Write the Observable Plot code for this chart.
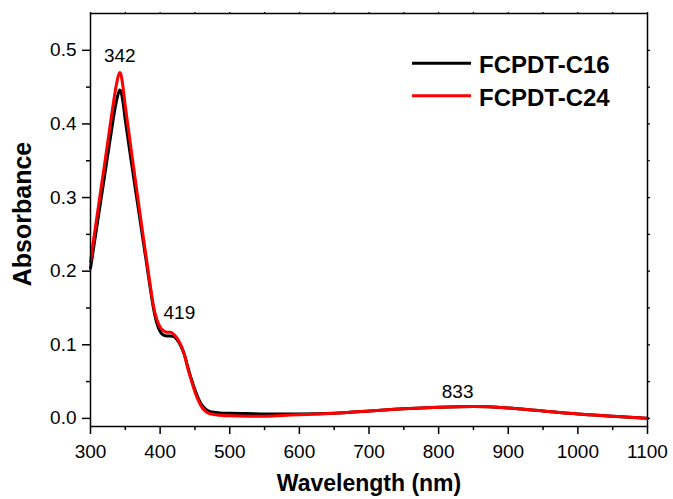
<!DOCTYPE html>
<html>
<head>
<meta charset="utf-8">
<script src="https://cdn.jsdelivr.net/npm/d3@7"></script>
<script src="https://cdn.jsdelivr.net/npm/@observablehq/plot@0.6"></script>
<style>
  html, body { margin: 0; padding: 0; background: #fff; }
  #wrap { position: relative; width: 673px; height: 499px; font-family: "Liberation Sans", Arial, sans-serif; }
  #legend { position: absolute; left: 0; top: 0; pointer-events: none; }
</style>
</head>
<body>
<div id="wrap"></div>
<script>
// ---- data ----
const wavelengths = [300,305,310,315,320,325,330,336,339,342,344,346,350,355,360,365,370,375,380,385,390,395,400,405,410,415,420,425,430,435,440,445,450,455,460,465,470,480,490,500,525,550,575,600,650,700,750,800,850,900,950,1000,1050,1100];
const absC24 = [0.213,0.246,0.279,0.312,0.344,0.377,0.410,0.447,0.462,0.470,0.466,0.455,0.424,0.389,0.354,0.320,0.286,0.252,0.219,0.186,0.155,0.135,0.124,0.119,0.117,0.117,0.114,0.108,0.099,0.086,0.067,0.051,0.036,0.024,0.015,0.010,0.007,0.005,0.004,0.0035,0.003,0.003,0.004,0.005,0.007,0.010,0.013,0.015,0.016,0.014,0.010,0.006,0.003,0.000];
const absC16 = [0.204,0.235,0.266,0.297,0.328,0.359,0.390,0.425,0.438,0.446,0.443,0.434,0.405,0.372,0.340,0.308,0.277,0.245,0.214,0.182,0.152,0.130,0.118,0.113,0.112,0.112,0.111,0.106,0.098,0.086,0.069,0.053,0.039,0.027,0.018,0.013,0.010,0.008,0.007,0.007,0.0065,0.006,0.006,0.006,0.007,0.010,0.013,0.015,0.016,0.014,0.010,0.006,0.003,0.000];
const seriesNames = ["FCPDT-C16", "FCPDT-C24"];
const seriesColors = ["#000000", "#ff0000"];
const peakX = [342, 419, 833];
const peakY = [0.470, 0.115, 0.016];
const peakText = ["342", "419", "833"];
const xMajor = [300,400,500,600,700,800,900,1000,1100];
const xMinor = [350,450,550,650,750,850,950,1050];
const yMajor = [0.0,0.1,0.2,0.3,0.4,0.5];
const yMinor = [0.05,0.15,0.25,0.35,0.45];
const xTitle = "Wavelength (nm)";
const yTitle = "Absorbance";

// ---- build ----
const rows = [];
wavelengths.forEach((w, i) => {
  rows.push({w, a: absC16[i], s: seriesNames[0]});
});
wavelengths.forEach((w, i) => {
  rows.push({w, a: absC24[i], s: seriesNames[1]});
});
const peaks = peakX.map((x, i) => ({x, y: peakY[i], t: peakText[i]}));

const font = "'Liberation Sans', Arial, sans-serif";
const chart = Plot.plot({
  width: 673,
  height: 499,
  marginLeft: 90,
  marginRight: 26,
  marginTop: 13,
  marginBottom: 73,
  style: {fontFamily: font, background: "#fff", color: "#000", overflow: "visible"},
  x: {domain: [300, 1100]},
  y: {domain: [-0.011, 0.55]},
  color: {domain: seriesNames, range: seriesColors},
  marks: [
    Plot.line(rows, {x: "w", y: "a", z: "s", stroke: "s", strokeWidth: 3, curve: "monotone-x"}),
    Plot.frame({stroke: "#000", strokeWidth: 1.5}),
    Plot.axisX({ticks: xMajor, tickSize: 8, tickPadding: 10, fontSize: 19, tickFormat: d => String(d), label: null, strokeWidth: 1.5}),
    Plot.axisX({ticks: xMinor, tickSize: 4, text: null, label: null, strokeWidth: 1.5}),
    Plot.axisX({anchor: "top", ticks: xMajor.concat(xMinor), tickSize: 2, text: null, label: null, strokeWidth: 1.2}),
    Plot.axisY({ticks: yMajor, tickSize: 8, tickPadding: 6, fontSize: 19, tickFormat: d3.format(".1f"), label: null, strokeWidth: 1.5}),
    Plot.axisY({ticks: yMinor, tickSize: 4, text: null, label: null, strokeWidth: 1.5}),
    Plot.axisY({anchor: "right", ticks: yMajor.concat(yMinor), tickSize: 2, text: null, label: null, strokeWidth: 1.2}),
    Plot.text([peaks[0]], {x: "x", y: "y", text: "t", dy: -10, lineAnchor: "bottom", fontSize: 19, fill: "#000"}),
    Plot.text([peaks[1]], {x: "x", y: "y", text: "t", dx: 6, dy: -15, lineAnchor: "bottom", fontSize: 19, fill: "#000"}),
    Plot.text([peaks[2]], {x: "x", y: "y", text: "t", dx: -4, dy: -9, lineAnchor: "bottom", fontSize: 19, fill: "#000"}),
    Plot.text([xTitle], {frameAnchor: "bottom", dy: 64, lineAnchor: "bottom", fontSize: 23, fontWeight: "bold", fill: "#000"})
  ]
});
const wrap = document.getElementById("wrap");
wrap.appendChild(chart);

// overlay: y-axis title and legend (inside plot area, top right)
const leg = d3.select(wrap).append("svg")
  .attr("id", "legend").attr("width", 673).attr("height", 499);
leg.append("text")
  .attr("transform", "translate(31,214) rotate(-90)")
  .attr("text-anchor", "middle")
  .attr("font-family", font).attr("font-size", 25).attr("font-weight", "bold")
  .attr("fill", "#000").text(yTitle);
seriesNames.forEach((name, i) => {
  const cy = 63.3 + i * 32.4;
  leg.append("line").attr("x1", 412).attr("x2", 471).attr("y1", cy).attr("y2", cy)
    .attr("stroke", seriesColors[i]).attr("stroke-width", 3);
  leg.append("text").attr("x", 479).attr("y", cy + 10)
    .attr("font-family", font).attr("font-size", 24).attr("font-weight", "bold")
    .attr("fill", "#000").text(name);
});
</script>
</body>
</html>
